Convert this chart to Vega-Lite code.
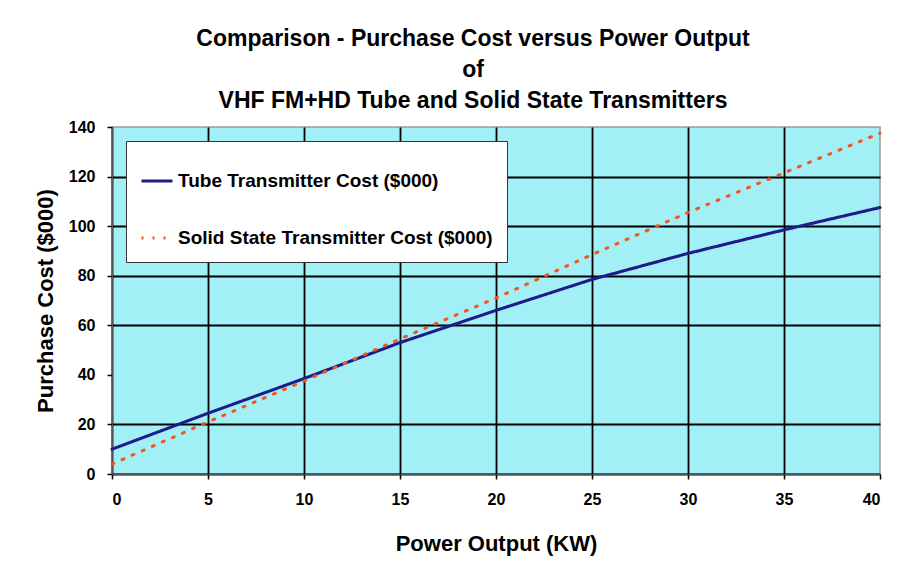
{
  "$schema": "https://vega.github.io/schema/vega-lite/v6.json",
  "width": 768,
  "height": 347,
  "autosize": {"type": "none"},
  "padding": {"left": 112, "top": 127, "right": 42, "bottom": 106},
  "background": "white",
  "title": {
    "text": ["Comparison - Purchase Cost versus Power Output", "of", "VHF FM+HD Tube and Solid State Transmitters"],
    "font": "Liberation Sans",
    "fontSize": 23,
    "fontWeight": "bold",
    "color": "black",
    "lineHeight": 31,
    "anchor": "middle",
    "frame": "group",
    "dx": -23,
    "offset": 6
  },
  "data": {
    "values": [
      {"kw": 0, "cost": 10, "series": "Tube Transmitter Cost ($000)"},
      {"kw": 5, "cost": 24.5, "series": "Tube Transmitter Cost ($000)"},
      {"kw": 10, "cost": 38.5, "series": "Tube Transmitter Cost ($000)"},
      {"kw": 15, "cost": 53, "series": "Tube Transmitter Cost ($000)"},
      {"kw": 20, "cost": 66, "series": "Tube Transmitter Cost ($000)"},
      {"kw": 25, "cost": 78.5, "series": "Tube Transmitter Cost ($000)"},
      {"kw": 30, "cost": 89, "series": "Tube Transmitter Cost ($000)"},
      {"kw": 35, "cost": 98.5, "series": "Tube Transmitter Cost ($000)"},
      {"kw": 40, "cost": 107.5, "series": "Tube Transmitter Cost ($000)"},
      {"kw": 0, "cost": 4, "series": "Solid State Transmitter Cost ($000)"},
      {"kw": 5, "cost": 21, "series": "Solid State Transmitter Cost ($000)"},
      {"kw": 10, "cost": 37.5, "series": "Solid State Transmitter Cost ($000)"},
      {"kw": 15, "cost": 54.5, "series": "Solid State Transmitter Cost ($000)"},
      {"kw": 20, "cost": 71, "series": "Solid State Transmitter Cost ($000)"},
      {"kw": 25, "cost": 88.5, "series": "Solid State Transmitter Cost ($000)"},
      {"kw": 30, "cost": 105.5, "series": "Solid State Transmitter Cost ($000)"},
      {"kw": 35, "cost": 121.5, "series": "Solid State Transmitter Cost ($000)"},
      {"kw": 40, "cost": 137.5, "series": "Solid State Transmitter Cost ($000)"}
    ]
  },
  "mark": {"type": "line", "strokeCap": "round"},
  "encoding": {
    "x": {
      "field": "kw",
      "type": "quantitative",
      "scale": {"domain": [0, 40], "nice": false},
      "axis": {
        "title": "Power Output (KW)",
        "values": [0, 5, 10, 15, 20, 25, 30, 35, 40],
        "titlePadding": 26,
        "labelPadding": 12
      }
    },
    "y": {
      "field": "cost",
      "type": "quantitative",
      "scale": {"domain": [0, 140], "nice": false},
      "axis": {
        "title": "Purchase Cost ($000)",
        "values": [0, 20, 40, 60, 80, 100, 120, 140],
        "titlePadding": 11,
        "labelPadding": 12
      }
    },
    "color": {
      "field": "series",
      "type": "nominal",
      "scale": {
        "domain": ["Tube Transmitter Cost ($000)", "Solid State Transmitter Cost ($000)"],
        "range": ["#1c1c8a", "#f5541e"]
      },
      "legend": {
        "orient": "top-left",
        "offset": 14,
        "title": " ",
        "titleFontSize": 7,
        "titlePadding": 2,
        "fillColor": "white",
        "strokeColor": "#333333",
        "padding": 14,
        "rowPadding": 30,
        "labelOffset": 4,
        "symbolType": "stroke",
        "symbolSize": 960,
        "symbolStrokeWidth": 3,
        "symbolDash": {"expr": "datum.value == 'Tube Transmitter Cost ($000)' ? [] : [2, 9]"},
        "labelFont": "Liberation Sans",
        "labelFontSize": 19,
        "labelFontWeight": "bold",
        "labelColor": "black",
        "labelLimit": 400
      }
    },
    "strokeDash": {
      "field": "series",
      "type": "nominal",
      "scale": {
        "domain": ["Tube Transmitter Cost ($000)", "Solid State Transmitter Cost ($000)"],
        "range": [[1, 0], [2, 9]]
      },
      "legend": null
    },
    "strokeWidth": {"value": 3}
  },
  "config": {
    "view": {"fill": "#a3eff6", "stroke": "#9a9a9a", "strokeWidth": 1.5},
    "axis": {
      "labelFont": "Liberation Sans",
      "labelFontSize": 16,
      "labelFontWeight": "bold",
      "labelColor": "black",
      "titleFont": "Liberation Sans",
      "titleFontSize": 22,
      "titleFontWeight": "bold",
      "titleColor": "black",
      "grid": true,
      "gridColor": {"condition": {"test": "datum.value == 40 || datum.value == 140", "value": "transparent"}, "value": "black"},
      "gridWidth": 1.8,
      "gridOpacity": 1,
      "domainColor": "#555555",
      "tickColor": "black",
      "tickSize": 5,
      "tickWidth": 1.5
    }
  }
}
